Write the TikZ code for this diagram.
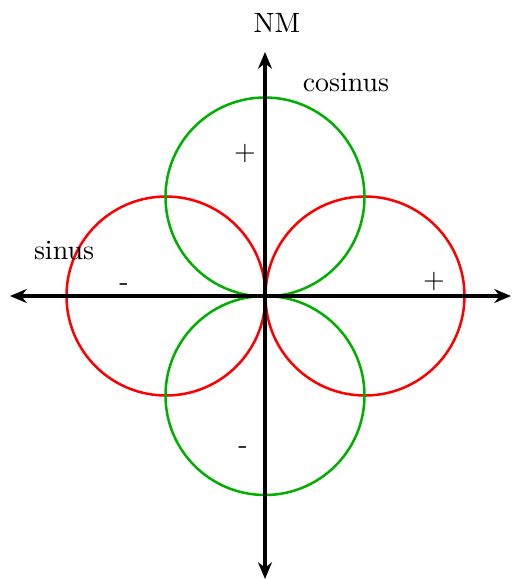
\documentclass[tikz,border=0pt]{standalone}
\usetikzlibrary{arrows.meta}
\begin{document}
\begin{tikzpicture}[x=0.3584pt,y=-0.3584pt,
  axis/.style={line width=1.1pt,{Stealth[length=6pt,width=5pt]}-{Stealth[length=6pt,width=5pt]}},
  redc/.style={draw=red,line width=0.9pt},
  greenc/.style={draw={rgb,255:red,0;green,175;blue,0},line width=0.9pt},
  lbl/.style={inner sep=0pt}]
\useasboundingbox (0,0) rectangle (511,579);
\coordinate (xl) at (10,296);
\coordinate (xr) at (511,296);
\coordinate (yt) at (265,52);
\coordinate (yb) at (265,579);
\draw[redc] (166,296) circle[radius=99.5];
\draw[redc] (365,296) circle[radius=99.5];
\draw[greenc] (265,197) circle[radius=99.5];
\draw[greenc] (265,395.5) circle[radius=99.5];
\draw[axis] (xl) -- (xr);
\draw[axis] (yb) -- (yt);
\node[lbl] (nm) at (277,23) {NM};
\node[lbl] (cos) at (346,82) {cosinus};
\node[lbl] (sin) at (64,250) {sinus};
\node[lbl] (p1) at (245,154) {+};
\node[lbl] (m1) at (124,287) {-};
\node[lbl] (p2) at (434,282) {+};
\node[lbl] (m2) at (243,450) {-};
\end{tikzpicture}
\end{document}
